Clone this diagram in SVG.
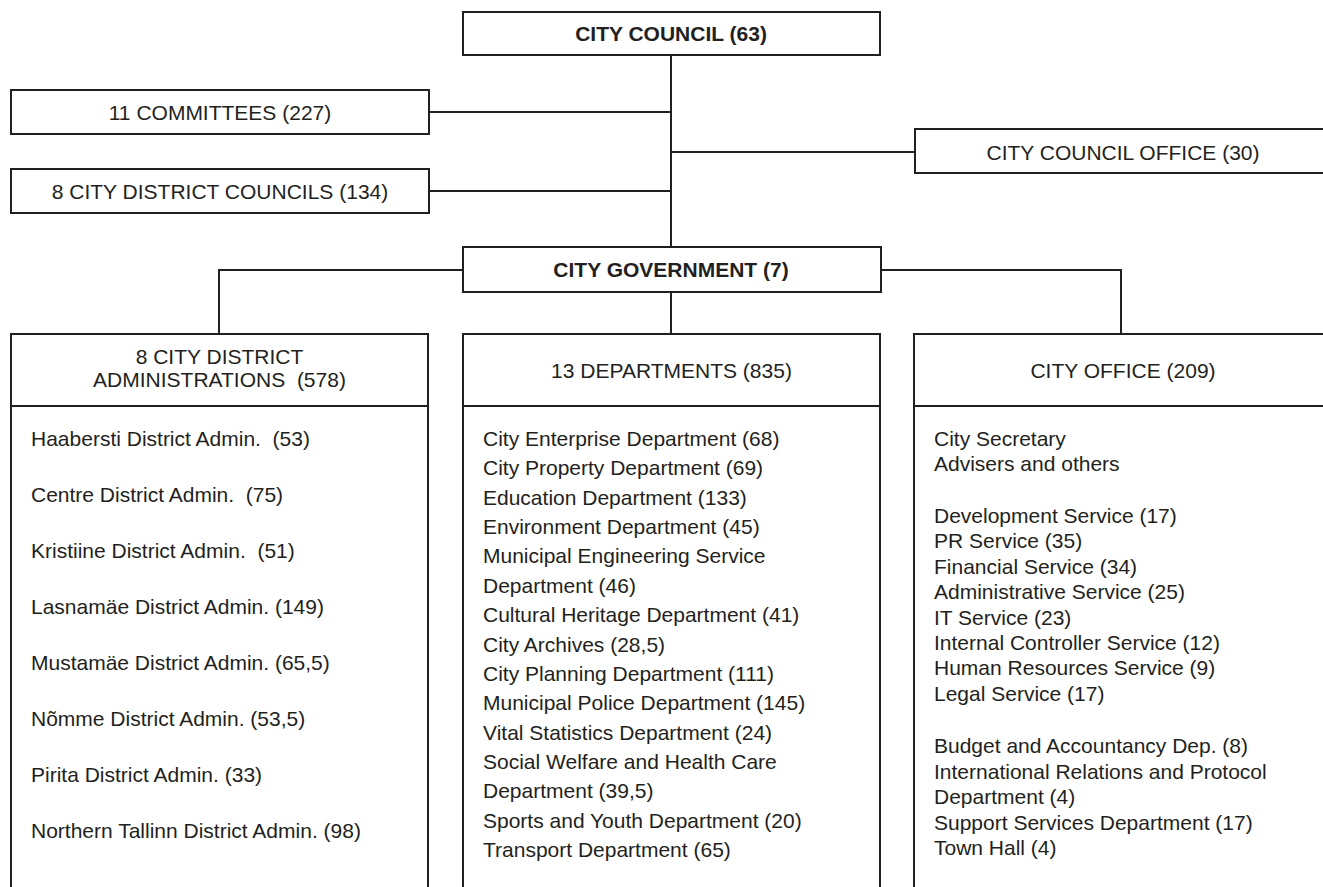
<svg xmlns="http://www.w3.org/2000/svg" width="1323" height="887" viewBox="0 0 1323 887">
<style>
.box{fill:#fff;stroke:#231f20;stroke-width:2}
.ln{fill:none;stroke:#231f20;stroke-width:2}
text{font-family:"Liberation Sans",Arial,sans-serif;font-size:21px;fill:#231f20}
.b{font-weight:bold}
.c{text-anchor:middle}
</style>
<rect width="1323" height="887" fill="#fff"/>
<g id="connectors">
<path class="ln" d="M671 55V247"/>
<path class="ln" d="M429 112H671"/>
<path class="ln" d="M429 191H671"/>
<path class="ln" d="M671 152H915"/>
<path class="ln" d="M463 270H219V334"/>
<path class="ln" d="M881 270H1121V334"/>
<path class="ln" d="M671 292V334"/>
</g>
<g id="city-council">
<rect class="box" x="463" y="12" width="417" height="43"/>
<text class="b c" x="671" y="41">CITY COUNCIL (63)</text>
</g>
<g id="committees">
<rect class="box" x="11" y="90" width="418" height="44"/>
<text class="c" x="220" y="120">11 COMMITTEES (227)</text>
</g>
<g id="district-councils">
<rect class="box" x="11" y="169" width="418" height="44"/>
<text class="c" x="220" y="199">8 CITY DISTRICT COUNCILS (134)</text>
</g>
<g id="city-council-office">
<rect class="box" x="915" y="129" width="420" height="44"/>
<text class="c" x="1123" y="160">CITY COUNCIL OFFICE (30)</text>
</g>
<g id="city-government">
<rect class="box" x="463" y="247" width="418" height="45"/>
<text class="b c" x="671" y="277">CITY GOVERNMENT (7)</text>
</g>
<g id="district-administrations">
<path class="ln" d="M11 890V334H428V890M11 406H428"/>
<text class="c" x="219.5" y="364">8 CITY DISTRICT</text>
<text class="c" x="219.5" y="387" xml:space="preserve">ADMINISTRATIONS  (578)</text>
<text x="31" y="446" xml:space="preserve">Haabersti District Admin.  (53)</text>
<text x="31" y="502" xml:space="preserve">Centre District Admin.  (75)</text>
<text x="31" y="558" xml:space="preserve">Kristiine District Admin.  (51)</text>
<text x="31" y="614">Lasnamäe District Admin. (149)</text>
<text x="31" y="670">Mustamäe District Admin. (65,5)</text>
<text x="31" y="726">Nõmme District Admin. (53,5)</text>
<text x="31" y="782">Pirita District Admin. (33)</text>
<text x="31" y="838">Northern Tallinn District Admin. (98)</text>
</g>
<g id="departments">
<path class="ln" d="M463 890V334H880V890M463 406H880"/>
<text class="c" x="671.5" y="378">13 DEPARTMENTS (835)</text>
<text x="483" y="446">City Enterprise Department (68)</text>
<text x="483" y="475.4">City Property Department (69)</text>
<text x="483" y="504.7">Education Department (133)</text>
<text x="483" y="534.1">Environment Department (45)</text>
<text x="483" y="563.4">Municipal Engineering Service</text>
<text x="483" y="592.8">Department (46)</text>
<text x="483" y="622.2">Cultural Heritage Department (41)</text>
<text x="483" y="651.5">City Archives (28,5)</text>
<text x="483" y="680.9">City Planning Department (111)</text>
<text x="483" y="710.2">Municipal Police Department (145)</text>
<text x="483" y="739.6">Vital Statistics Department (24)</text>
<text x="483" y="769">Social Welfare and Health Care</text>
<text x="483" y="798.3">Department (39,5)</text>
<text x="483" y="827.7">Sports and Youth Department (20)</text>
<text x="483" y="857">Transport Department (65)</text>
</g>
<g id="city-office">
<path class="ln" d="M914 890V334H1330M914 406H1330"/>
<text class="c" x="1123" y="378">CITY OFFICE (209)</text>
<text x="934" y="446">City Secretary</text>
<text x="934" y="470.5">Advisers and others</text>
<text x="934" y="523">Development Service (17)</text>
<text x="934" y="548.3">PR Service (35)</text>
<text x="934" y="573.7">Financial Service (34)</text>
<text x="934" y="598.7">Administrative Service (25)</text>
<text x="934" y="624.7">IT Service (23)</text>
<text x="934" y="650.3">Internal Controller Service (12)</text>
<text x="934" y="675.3">Human Resources Service (9)</text>
<text x="934" y="701.3">Legal Service (17)</text>
<text x="934" y="753">Budget and Accountancy Dep. (8)</text>
<text x="934" y="778.7">International Relations and Protocol</text>
<text x="934" y="804">Department (4)</text>
<text x="934" y="829.7">Support Services Department (17)</text>
<text x="934" y="855.3">Town Hall (4)</text>
</g>
</svg>
